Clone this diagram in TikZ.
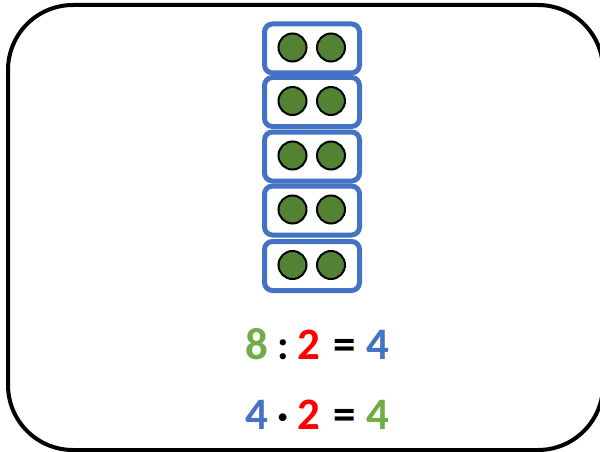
\documentclass[tikz,border=0pt]{standalone}
\usepackage{fontspec}
\setmainfont{Carlito}
\definecolor{boxblue}{HTML}{4472C4}
\definecolor{dotgreen}{HTML}{548235}
\definecolor{numgreen}{HTML}{70AD47}
\definecolor{numred}{HTML}{FF0000}
\definecolor{numblue}{HTML}{4472C4}
\tikzset{
  frame/.style={draw=black, line width=4pt, rounded corners=65pt},
  pairbox/.style={draw=boxblue, line width=5pt, rounded corners=8pt},
  dot/.style={circle, draw=black, line width=2pt, fill=dotgreen, minimum size=28pt, inner sep=0pt},
  sym/.style={font=\fontsize{45}{45}\selectfont\bfseries, inner sep=0pt, anchor=base},
  opsym/.style={font=\fontsize{45}{45}\selectfont\bfseries, inner sep=0pt, anchor=base},
  smallsym/.style={font=\fontsize{42}{42}\selectfont, inner sep=0pt, anchor=base}
}
\begin{document}
\begin{tikzpicture}[x=1pt,y=-1pt]
\useasboundingbox (0,0) rectangle (600,452);
\draw[frame] (8,5) rectangle (603,450);
\foreach \i/\yc in {1/48.5,2/102,3/156.5,4/210.5,5/266} {
  \draw[pairbox] (264.5,\yc-24.5) rectangle (359.5,\yc+24.5);
  \node[dot] (a\i) at (292.5,\yc-1) {};
  \node[dot] (b\i) at (331,\yc-1) {};
}
\node[sym, text=numgreen] (e1) at (256.5,359) {8};
\node[smallsym, text=black] (e2) at (283,359) {\textbf{:}};
\node[sym, text=numred] (e3) at (309,359) {2};
\node[opsym, text=black] (e4) at (345,359) {=};
\node[sym, text=numblue] (e5) at (377.5,359) {4};
\node[sym, text=numblue] (f1) at (256.5,429) {4};
\node[smallsym, text=black] (f2) at (283,429) {\textbf{·}};
\node[sym, text=numred] (f3) at (309,429) {2};
\node[opsym, text=black] (f4) at (345,429) {=};
\node[sym, text=numgreen] (f5) at (377.5,429) {4};
\end{tikzpicture}
\end{document}
